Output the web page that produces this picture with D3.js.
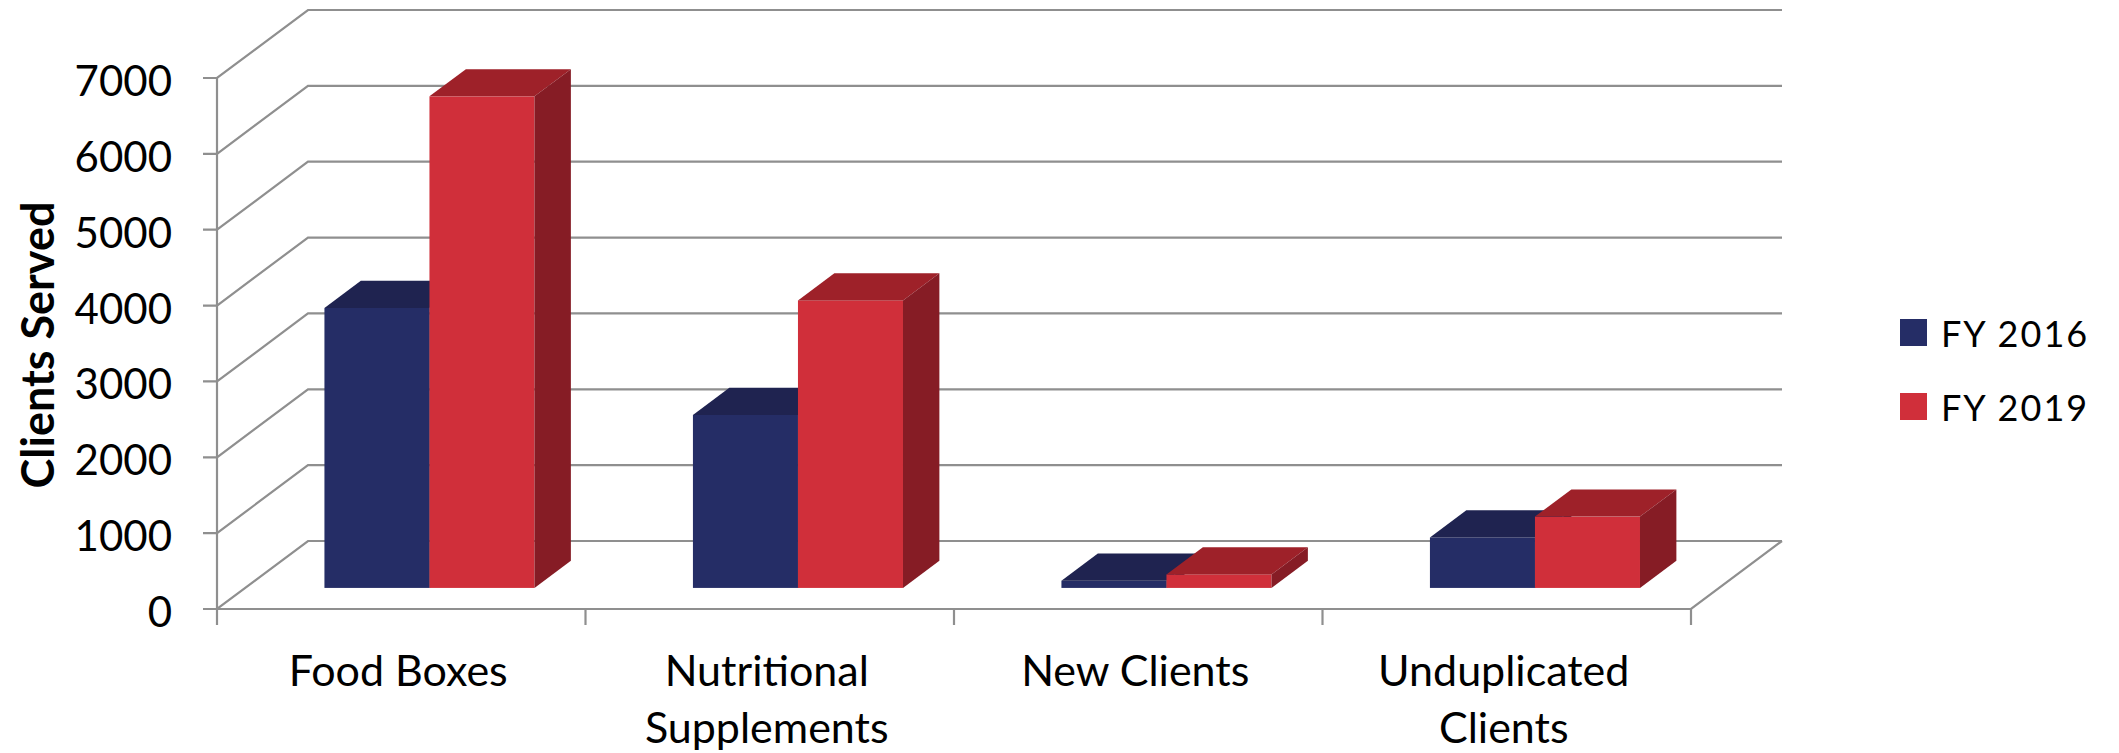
<!DOCTYPE html>
<html>
<head>
<meta charset="utf-8">
<script src="https://cdn.jsdelivr.net/npm/d3@7"></script>
<style>
  body { margin: 0; background: #fff; }
  text { font-family: Lato, "Open Sans", sans-serif; fill: #000; }
</style>
</head>
<body>
<div id="chart"></div>
<script>
// data
var categories = ["Food Boxes", "Nutritional Supplements", "New Clients", "Unduplicated Clients"];
var seriesNames = ["FY 2016", "FY 2019"];
var fy2016 = [3690, 2280, 95, 665];
var fy2019 = [6480, 3790, 178, 940];
var yTicks = [0, 1000, 2000, 3000, 4000, 5000, 6000, 7000];
var yTitle = "Clients Served";

var colors = {
  "FY 2016": {front: "#252d66", top: "#1f2350", side: "#181c40"},
  "FY 2019": {front: "#d02f3a", top: "#9e2129", side: "#861c25"}
};

var width = 2119, height = 753;
var left = 217, right = 1691;   // front edge of the floor
var DX = 91, DY = 68;           // depth of the 3d box
var gridColor = "#8f8f8f";

var svg = d3.select("#chart")
  .append("svg")
    .attr("width", width)
    .attr("height", height);

// scales
var y = d3.scaleLinear().domain([0, 7000]).range([609, 78]);
var x0 = d3.scaleBand().domain(categories).range([left, right])
  .paddingInner(0.43).paddingOuter(0.215);
var x1 = d3.scaleBand().domain(seriesNames).range([0, x0.bandwidth()]);

// 1. walls, gridlines and value ticks
var grid = svg.append("g").attr("fill", "none").attr("stroke", gridColor).attr("stroke-width", 2.2);

yTicks.forEach(function(v) {
  grid.append("path")
    .attr("d", "M" + (left - 14) + "," + y(v) + "H" + left +
               "L" + (left + DX) + "," + (y(v) - DY) + "H" + (right + DX));
});

// floor edges and the front axis line
grid.append("path")
  .attr("d", "M" + left + "," + y(0) + "H" + right + "L" + (right + DX) + "," + (y(0) - DY));
grid.append("path")
  .attr("d", "M" + left + "," + y(0) + "V" + y(7000));

// category ticks
var catEdges = categories.map(function(c) { return x0(c) - x0.step() * x0.paddingInner() / 2; });
catEdges[0] = left;
catEdges.push(right);
catEdges.forEach(function(cx) {
  grid.append("path").attr("d", "M" + cx + "," + y(0) + "V" + (y(0) + 16));
});

// value labels
svg.append("g").selectAll("text")
  .data(yTicks)
  .enter().append("text")
    .attr("x", 172)
    .attr("y", function(d) { return y(d) + 2; })
    .attr("text-anchor", "end")
    .attr("dominant-baseline", "central")
    .attr("font-size", 42)
    .text(function(d) { return d; });

// 2. bars
var t0 = 0.31, depth = 0.4;
var bw = x1.bandwidth();
var ddx = DX * depth, ddy = DY * depth;

categories.forEach(function(cat, i) {
  var vals = [fy2016[i], fy2019[i]];
  seriesNames.forEach(function(s, j) {
    var bx = x0(cat) + x1(s) + DX * t0;
    var yb = y(0) - DY * t0;
    var yt = y(vals[j]) - DY * t0;
    var c = colors[s];
    var g = svg.append("g");
    g.append("rect")
      .attr("x", bx).attr("y", yt)
      .attr("width", bw).attr("height", yb - yt)
      .attr("fill", c.front);
    g.append("path")
      .attr("d", "M" + bx + "," + yt + "l" + ddx + "," + (-ddy) + "h" + bw + "l" + (-ddx) + "," + ddy + "Z")
      .attr("fill", c.top);
    g.append("path")
      .attr("d", "M" + (bx + bw) + "," + yt + "l" + ddx + "," + (-ddy) + "V" + (yb - ddy) + "l" + (-ddx) + "," + ddy + "Z")
      .attr("fill", c.side);
  });
});

// 3. category labels (wrapped when too wide)
var catLabels = svg.append("g").selectAll("text")
  .data(categories)
  .enter().append("text")
    .attr("x", function(d) { return x0(d) + x0.bandwidth() / 2 - 3; })
    .attr("y", 686)
    .attr("text-anchor", "middle")
    .attr("font-size", 43)
    .text(function(d) { return d; });

catLabels.each(function(d) {
  var t = d3.select(this);
  if (this.getComputedTextLength() > 300) {
    var words = d.split(" ");
    var xx = t.attr("x");
    t.text(null);
    words.forEach(function(w, k) {
      t.append("tspan").attr("x", xx).attr("dy", k == 0 ? 0 : 57).text(w);
    });
  }
});

// axis title
svg.append("text")
  .attr("transform", "translate(54,345) rotate(-90)")
  .attr("text-anchor", "middle")
  .attr("font-size", 45)
  .attr("font-weight", "bold")
  .text(yTitle);

// 4. legend
var legend = svg.append("g").selectAll("g")
  .data(seriesNames)
  .enter().append("g")
    .attr("transform", function(d, i) { return "translate(1900," + (319 + i * 74) + ")"; });

legend.append("rect")
  .attr("width", 27).attr("height", 27)
  .attr("fill", function(d) { return colors[d].front; });

legend.append("text")
  .attr("x", 41)
  .attr("y", 14)
  .attr("dominant-baseline", "central")
  .attr("font-size", 36)
  .attr("letter-spacing", 2)
  .text(function(d) { return d; });
</script>
</body>
</html>
